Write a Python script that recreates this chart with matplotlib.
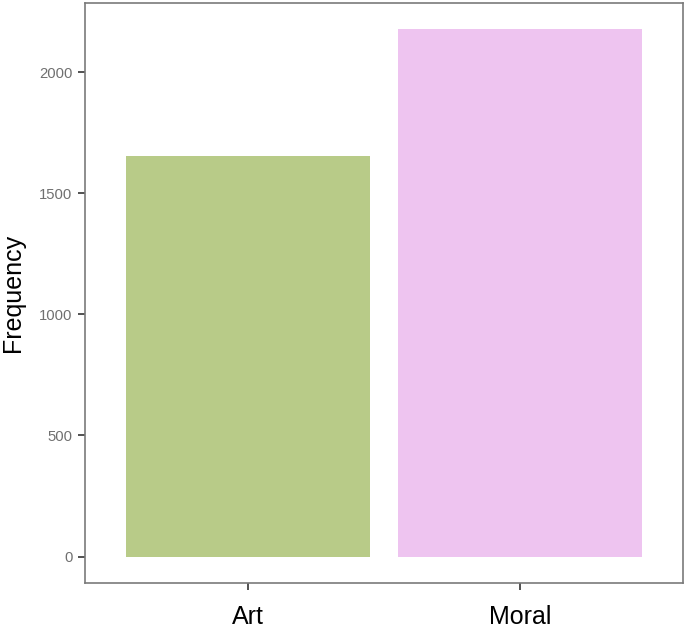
import matplotlib
matplotlib.use("Agg")
import matplotlib.pyplot as plt

categories = ["Art", "Moral"]
values = [1655, 2178]
colors = ["#B8CB88", "#EEC4F0"]
yticks = [0, 500, 1000, 1500, 2000]

plt.rcParams['font.family'] = ['Liberation Sans', 'DejaVu Sans']

fig = plt.figure(figsize=(6.85, 6.3), dpi=100)
ax = fig.add_axes([85/685, 47/630, 598/685, 580.5/630])
x = list(range(len(categories)))
ax.bar(x, values, width=0.9, color=colors)
ax.set_xlim(-0.6, 1.6)
ax.set_ylim(-109, 2287)
ax.set_xticks(x)
ax.set_xticklabels(categories, fontsize=18, color='black')
ax.set_yticks(yticks)
ax.set_yticklabels([str(v) for v in yticks], fontsize=10.7, color='#707070')
ax.set_ylabel("Frequency", fontsize=18, labelpad=10)
for s in ax.spines.values():
    s.set_color('#7a7a7a')
    s.set_linewidth(1.2)
ax.tick_params(axis='y', length=5, width=1.2, color='#333333', pad=4)
ax.tick_params(axis='x', length=5, width=1.2, color='#333333', pad=11)
fig.savefig("out.png", dpi=100)
